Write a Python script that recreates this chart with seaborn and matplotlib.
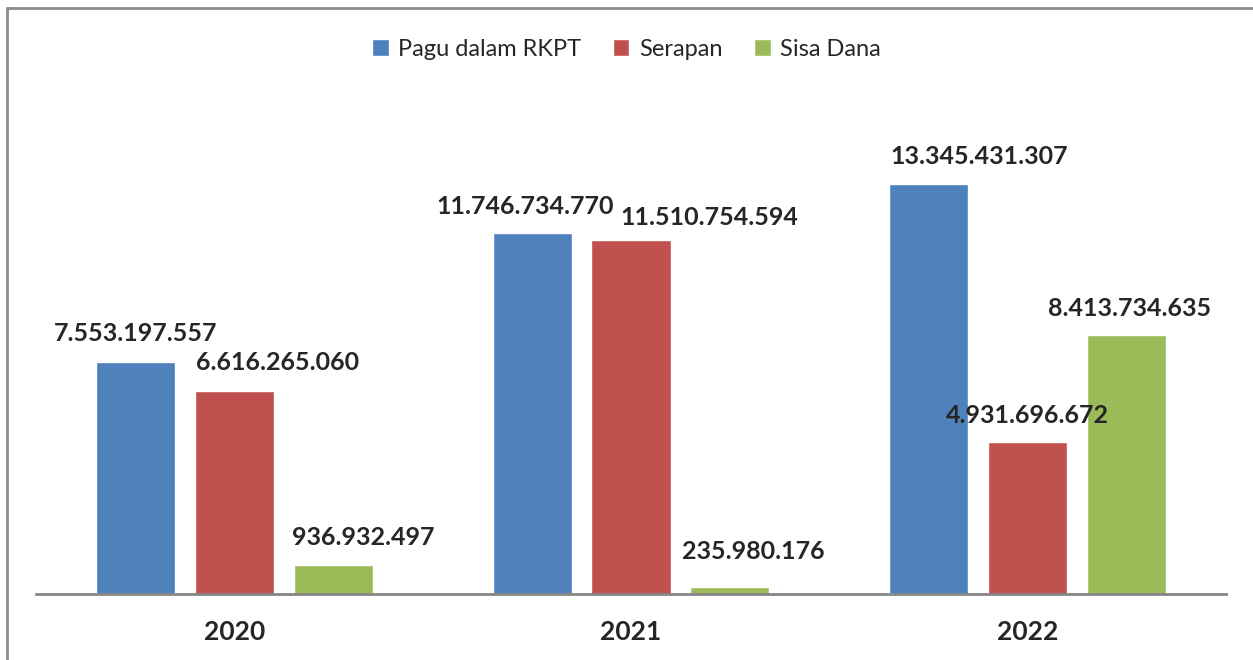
import matplotlib
matplotlib.use("Agg")
import matplotlib.pyplot as plt
import seaborn as sns
import pandas as pd
from matplotlib.lines import Line2D

years = ["2020", "2021", "2022"]
series = ["Pagu dalam RKPT", "Serapan", "Sisa Dana"]
pagu = [7553197557, 11746734770, 13345431307]
serapan = [6616265060, 11510754594, 4931696672]
sisa = [936932497, 235980176, 8413734635]
value_labels = {
    "Pagu dalam RKPT": ["7.553.197.557", "11.746.734.770", "13.345.431.307"],
    "Serapan": ["6.616.265.060", "11.510.754.594", "4.931.696.672"],
    "Sisa Dana": ["936.932.497", "235.980.176", "8.413.734.635"],
}

df = pd.DataFrame({
    "Tahun": years * 3,
    "Jenis": [s for s in series for _ in years],
    "Nilai": pagu + serapan + sisa,
})

colors = ["#4F81BD", "#C0504D", "#9BBB59"]
# label offsets in pixels (dx, dy), as placed in the original
offsets = {
    "Pagu dalam RKPT": [(0, 28), (-7, 27), (50, 27)],
    "Serapan": [(43, 28), (78, 23), (0, 27)],
    "Sisa Dana": [(30, 28), (23, 35), (3, 27)],
}

sns.set_style("white")
plt.rcParams["font.family"] = ["Lato", "DejaVu Sans"]

fig = plt.figure(figsize=(12.53, 6.60), dpi=100)
ax = fig.add_axes([36 / 1253, 1 - 594 / 660, (1226 - 36) / 1253, (594 - 95) / 660])

sns.barplot(data=df, x="Tahun", y="Nilai", hue="Jenis", palette=colors,
            width=0.748, gap=0.2, saturation=1, ax=ax, legend=True)

ax.set_xlim(-0.5, 2.5)
ax.set_ylim(0, 16.24e9)
ax.set_xlabel("")
ax.set_ylabel("")
ax.set_yticks([])
for side in ["top", "right", "left"]:
    ax.spines[side].set_visible(False)
ax.spines["bottom"].set_color("#868686")
ax.spines["bottom"].set_linewidth(2)
ax.tick_params(axis="x", length=0, pad=19, labelsize=19)
for t in ax.get_xticklabels():
    t.set_fontweight("bold")

for s, cont in zip(series, ax.containers):
    for i, bar in enumerate(cont):
        dx, dy = offsets[s][i]
        ax.annotate(value_labels[s][i],
                    xy=(bar.get_x() + bar.get_width() / 2, bar.get_height()),
                    xytext=(dx, dy), textcoords="offset pixels",
                    ha="center", va="center", fontsize=18, fontweight="bold")

handles, labels = ax.get_legend_handles_labels()
ax.legend(handles, labels, loc="center", bbox_to_anchor=(0.5, (660 - 49) / 660),
          bbox_transform=fig.transFigure, ncol=3, frameon=False, fontsize=17,
          handlelength=0.7, handleheight=0.7, handletextpad=0.4, columnspacing=1.35)

# outer chart border (extends past the right and bottom edges)
fig.add_artist(Line2D([7 / 1253, 7 / 1253], [-0.01, 1 - 8 / 660], color="#8c8c8c", lw=2))
fig.add_artist(Line2D([7 / 1253, 1.01], [1 - 8 / 660, 1 - 8 / 660], color="#8c8c8c", lw=2))

fig.savefig("out.png", dpi=100)
